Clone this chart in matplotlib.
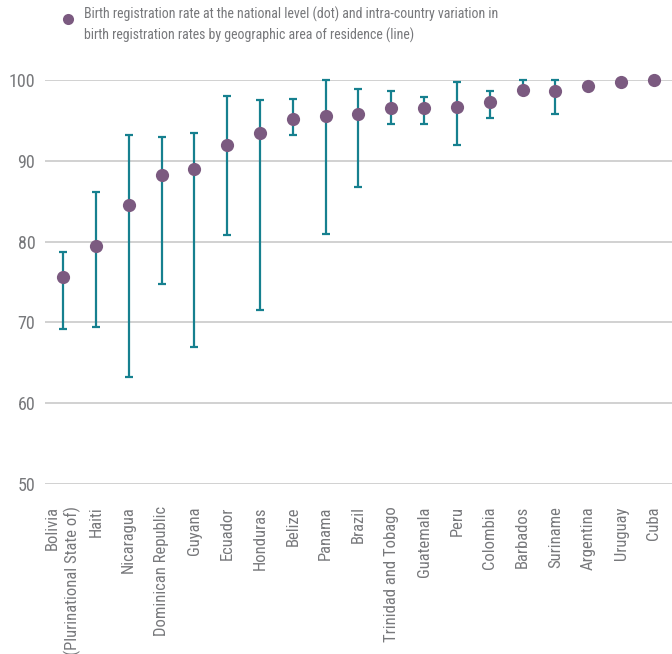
import numpy as np
import matplotlib
matplotlib.use("Agg")
import matplotlib.pyplot as plt
from matplotlib.lines import Line2D

plt.rcParams['font.family'] = ['Roboto Condensed', 'DejaVu Sans']

countries = [
    "Bolivia\n(Plurinational State of)", "Haiti", "Nicaragua", "Dominican Republic",
    "Guyana", "Ecuador", "Honduras", "Belize", "Panama", "Brazil",
    "Trinidad and Tobago", "Guatemala", "Peru", "Colombia", "Barbados",
    "Suriname", "Argentina", "Uruguay", "Cuba",
]
national = [75.6, 79.5, 84.5, 88.2, 89.0, 92.0, 93.5, 95.2, 95.6, 95.8,
            96.5, 96.5, 96.6, 97.3, 98.8, 98.7, 99.3, 99.7, 100.0]
area_low = [69.2, 69.4, 63.3, 74.7, 67.0, 80.8, 71.5, 93.2, 81.0, 86.7,
            94.5, 94.5, 92.0, 95.3, 98.4, 95.8, np.nan, np.nan, np.nan]
area_high = [78.7, 86.2, 93.2, 93.0, 93.4, 98.0, 97.5, 97.7, 100.0, 98.9,
             98.7, 97.9, 99.8, 98.7, 100.0, 100.0, np.nan, np.nan, np.nan]

DOT = '#7b5a80'
BAR = '#16808f'
GRID = '#c9c9c9'
TXT = '#77787b'

fig = plt.figure(figsize=(6.72, 6.54), dpi=100)
ax = fig.add_axes([45 / 672, 1 - 484 / 654, 627 / 672, 404 / 654])

x = np.arange(len(countries))
lo = np.array(area_low)
hi = np.array(area_high)
nat = np.array(national)
has_range = ~np.isnan(lo)

# range across areas of residence, then the national rate on top
ax.errorbar(x[has_range], nat[has_range],
            yerr=[nat[has_range] - lo[has_range], hi[has_range] - nat[has_range]],
            fmt='none', ecolor=BAR, elinewidth=1.6, capsize=3.2, capthick=1.6,
            clip_on=False, zorder=2)
ax.plot(x, nat, 'o', color=DOT, markersize=9.5, markeredgewidth=0,
        clip_on=False, zorder=3)

ax.set_xlim(-0.55, len(countries) - 0.45)
ax.set_ylim(50, 100)
ax.set_yticks(range(50, 101, 10))
ax.yaxis.grid(True, color=GRID, linewidth=1.2)
ax.set_axisbelow(True)
for s in ax.spines.values():
    s.set_visible(False)
ax.tick_params(axis='y', length=0, pad=7, labelsize=13, labelcolor=TXT)
ax.tick_params(axis='x', length=0, pad=16, labelsize=12, labelcolor=TXT)
ax.set_xticks(x)
labels = ax.set_xticklabels(countries, rotation=90, ha='center', va='top',
                            multialignment='right')
labels[0].set_linespacing(1.3)

# legend drawn by hand above the plot
fig.add_artist(Line2D([68 / 672], [1 - 19 / 654], marker='o', color=DOT,
                      markersize=8, markeredgewidth=0,
                      transform=fig.transFigure))
fig.text(84 / 672, 1 - 7 / 654,
         "Birth registration rate at the national level (dot) and intra-country variation in\n"
         "birth registration rates by geographic area of residence (line)",
         color=TXT, fontsize=10, ha='left', va='top', linespacing=1.45)

fig.savefig('out.png', dpi=100)
